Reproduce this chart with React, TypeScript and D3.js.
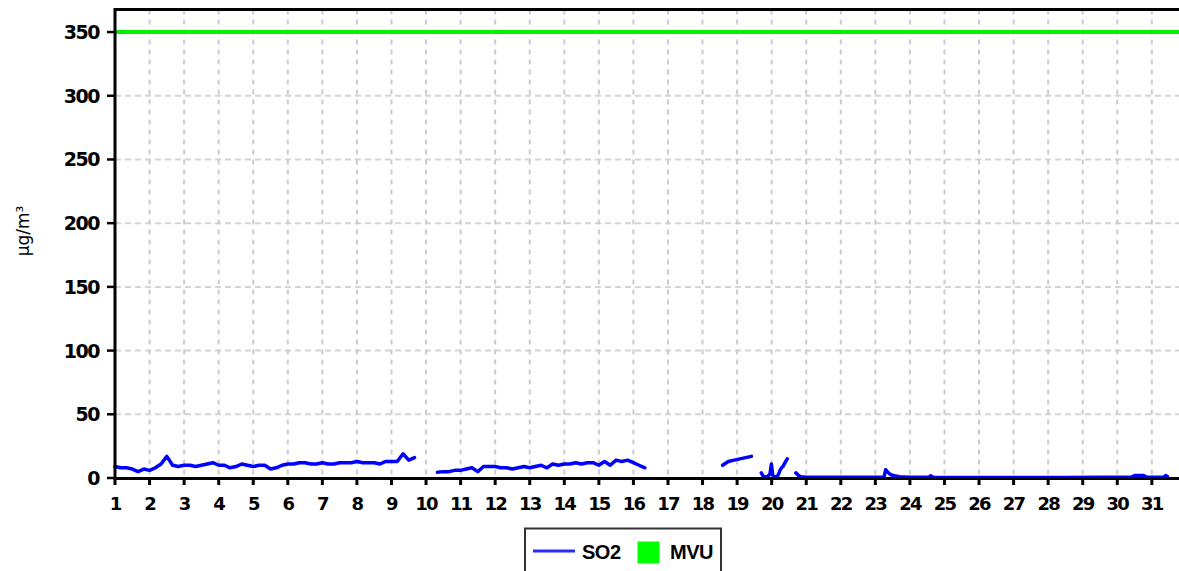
import React from "react";
import * as d3 from "d3";

// ---- data ----
const yTicks = [0, 50, 100, 150, 200, 250, 300, 350];
const xTicks = d3.range(1, 32); // days 1..31
const mvuLimit = 350;

// SO2 segments, 4-hourly values (day start + step 1/6)
const segAStart = 1.0;
const segAValues = [
  9, 8, 8, 7, 5, 7, 6, 8, 11, 17, 10, 9, 10, 10, 9, 10, 11, 12, 10, 10, 8, 9, 11, 10, 9, 10, 10,
  7, 8, 10, 11, 11, 12, 12, 11, 11, 12, 11, 11, 12, 12, 12, 13, 12, 12, 12, 11, 13, 13, 13, 19, 14, 16,
];
const segBStart = 10.33;
const segBValues = [
  4.5, 5, 5, 6, 6, 7, 8, 5, 9, 9, 9, 8, 8, 7, 8, 9, 8, 9, 10, 8, 11, 10, 11, 11, 12, 11, 12, 12,
  10, 13, 10, 14, 13, 14, 12, 10, 8,
];
const segCStart = 18.58;
const segCValues = [10, 13, 14, 15, 16, 17];
// hourly (step 1/24)
const segDStart = 19.7;
const segDValues = [4, 2, 1, 1, 1, 2, 3, 11, 2, 1, 1, 1, 3, 6, 8, 9, 11, 13, 15];
// sparse readings [day, value]
const segEReadings: [number, number][] = [
  [20.7, 4], [20.78, 2], [20.85, 1], [21.0, 0.6], [22.0, 0.6], [23.0, 0.6], [23.25, 0.8],
  [23.3, 6.5], [23.36, 4.5], [23.45, 2.5], [23.55, 1.8], [23.7, 1], [24.0, 0.5], [24.55, 0.5],
  [24.6, 1.8], [24.68, 0.5], [25.5, 0.4], [26.5, 0.4], [27.5, 0.4], [28.5, 0.4], [29.5, 0.5],
  [30.4, 0.6], [30.5, 2], [30.75, 2], [30.85, 0.8], [31.0, 0.6], [31.35, 0.6], [31.4, 2], [31.45, 1.2],
];

const legendItems = ["SO2", "MVU"];

const toPairs = (start: number, step: number, vals: number[]): [number, number][] =>
  vals.map((v, i) => [start + i * step, v]);

const segments: [number, number][][] = [
  toPairs(segAStart, 1 / 6, segAValues),
  toPairs(segBStart, 1 / 6, segBValues),
  toPairs(segCStart, 1 / 6, segCValues),
  toPairs(segDStart, 1 / 24, segDValues),
  segEReadings,
];

export default function App() {
  const W = 1179, H = 571;
  const left = 115, top = 9.5, bottom = 478;
  const x = d3.scaleLinear().domain([1, 32]).range([left, 1186.4]);
  const y = d3.scaleLinear().domain([0, 367.7]).range([bottom, top]);
  const line = d3.line<[number, number]>().x(d => x(d[0])).y(d => y(d[1]));
  const tickFont = "'DejaVu Sans', sans-serif";

  return (
    <svg width={W} height={H} style={{ position: "absolute", left: 0, top: 0, background: "#fff" }}>
      <rect x={0} y={0} width={W} height={H} fill="#fff" />
      {/* grid */}
      {yTicks.filter(v => v > 0).map(v => (
        <line key={"hy" + v} x1={left} x2={W} y1={y(v)} y2={y(v)} stroke="#d4d4d4" strokeWidth={2} strokeDasharray="6,4" />
      ))}
      {xTicks.filter(d => d > 1).map(d => (
        <line key={"vx" + d} x1={x(d)} x2={x(d)} y1={top} y2={bottom} stroke="#cccccc" strokeWidth={2} strokeDasharray="5,5" />
      ))}
      {/* MVU line */}
      <line x1={left} x2={W} y1={y(mvuLimit)} y2={y(mvuLimit)} stroke="#00f000" strokeWidth={4} />
      {/* SO2 */}
      {segments.map((s, i) => (
        <path key={i} d={line(s) || ""} fill="none" stroke="#0000ff" strokeWidth={3.5} strokeLinejoin="round" strokeLinecap="round" />
      ))}
      {/* frame */}
      <line x1={left} x2={W} y1={top} y2={top} stroke="#000" strokeWidth={3} />
      <line x1={left} x2={left} y1={top - 1.5} y2={bottom + 1.5} stroke="#000" strokeWidth={3} />
      <line x1={left - 1.5} x2={W} y1={bottom + 0.5} y2={bottom + 0.5} stroke="#000" strokeWidth={3} />
      {/* y ticks */}
      {yTicks.map(v => (
        <g key={"yt" + v}>
          <line x1={107} x2={left} y1={y(v)} y2={y(v)} stroke="#000" strokeWidth={2.5} />
          <text x={99} y={y(v)} dy="0.37em" textAnchor="end" fontFamily={tickFont} fontWeight="bold" fontSize={19} letterSpacing={-1.5} fill="#000">
            {v}
          </text>
        </g>
      ))}
      {/* x ticks */}
      {xTicks.map(d => (
        <g key={"xt" + d}>
          <line x1={x(d)} x2={x(d)} y1={bottom} y2={485} stroke="#000" strokeWidth={3} />
          <text x={x(d)} y={510} textAnchor="middle" fontFamily={tickFont} fontWeight="bold" fontSize={18} letterSpacing={-1.8} fill="#000">
            {d}
          </text>
        </g>
      ))}
      {/* y title */}
      <text transform="translate(29,231) rotate(-90)" textAnchor="middle" fontFamily={tickFont} fontSize={17} fill="#000">
        µg/m³
      </text>
      {/* legend */}
      <rect x={525} y={528.5} width={196} height={60} fill="#fff" stroke="#333" strokeWidth={2} />
      <line x1={533} x2={575} y1={551} y2={551} stroke="#2a2aff" strokeWidth={3} />
      <text x={582} y={559} fontFamily="'Liberation Sans', sans-serif" fontWeight="bold" fontSize={20} letterSpacing={-0.5} fill="#000">
        {legendItems[0]}
      </text>
      <rect x={637.5} y={541.5} width={22} height={22} fill="#00ff00" />
      <text x={670} y={559} fontFamily="'Liberation Sans', sans-serif" fontWeight="bold" fontSize={20} letterSpacing={-0.5} fill="#000">
        {legendItems[1]}
      </text>
    </svg>
  );
}
